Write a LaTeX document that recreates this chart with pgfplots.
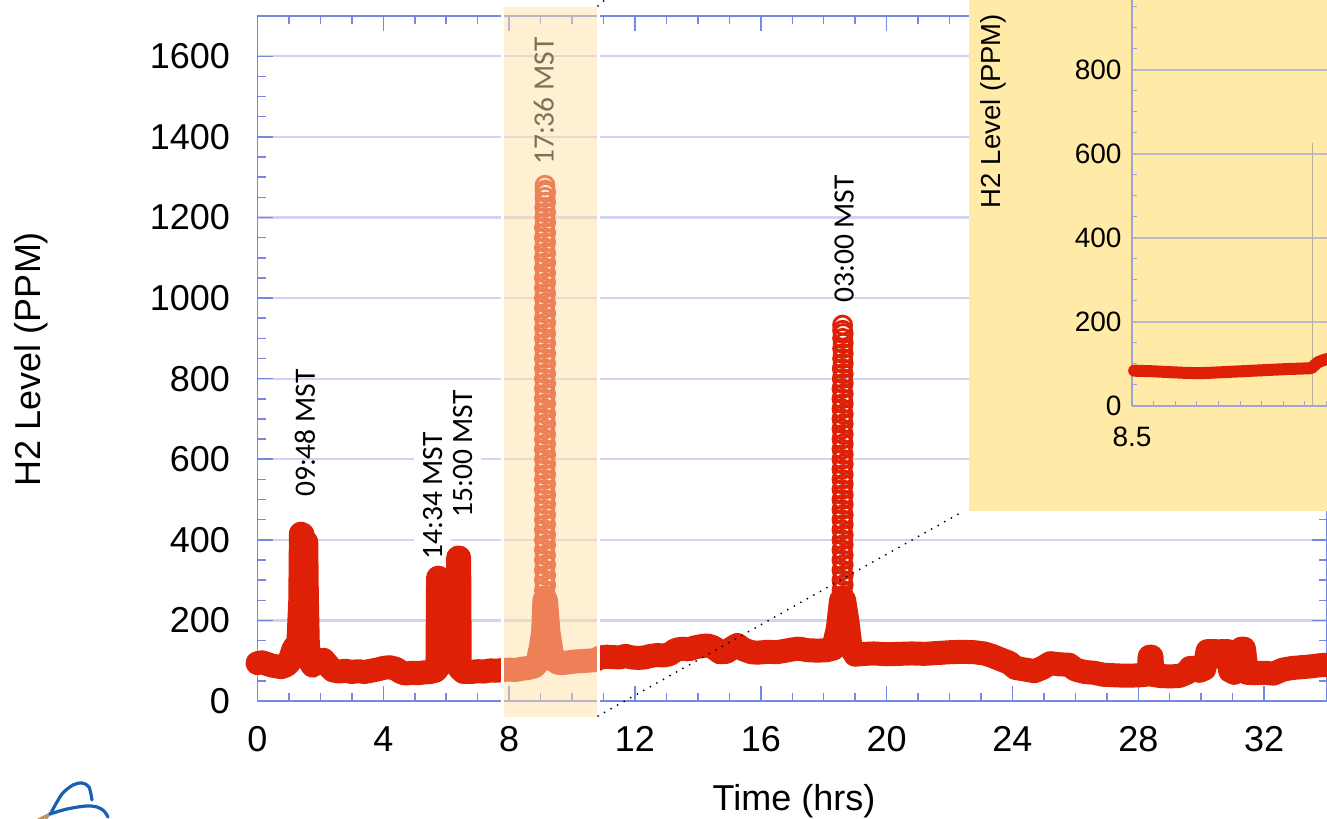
\documentclass[border=0pt]{standalone}
\usepackage{fontspec}
\setmainfont{Liberation Sans}
\newfontfamily\annotfont{Carlito}
\usepackage{pgfplots}
\pgfplotsset{compat=1.18}

\definecolor{axisblue}{RGB}{118,136,228}
\definecolor{gridlav}{RGB}{208,211,242}
\definecolor{trace}{RGB}{222,32,6}
\definecolor{bandtint}{RGB}{255,225,170}
\definecolor{insetbg}{RGB}{255,234,168}
\definecolor{insetaxis}{RGB}{160,165,210}
\definecolor{insetgrid}{RGB}{188,188,205}
\definecolor{eventline}{RGB}{185,175,150}
\definecolor{logoblue}{RGB}{25,95,180}
\definecolor{logotan}{RGB}{190,150,100}

\begin{document}
\begin{tikzpicture}[x=1bp,y=1bp]
\useasboundingbox (0,0) rectangle (1327,818);
\clip (0,0) rectangle (1327,818);

% ---------------- main H2 record ----------------
\begin{axis}[
  at={(257.5bp,117bp)}, anchor=south west,
  scale only axis, width=1069.5bp, height=685bp,
  xmin=0, xmax=34, ymin=0, ymax=1700,
  xtick={0,4,...,32}, ytick={0,200,...,1600},
  minor x tick num=3, minor y tick num=3,
  tick align=inside,
  major tick length=15bp, minor tick length=8bp,
  tick style={axisblue, line width=1.5bp},
  axis line style={axisblue, line width=1.5bp},
  ymajorgrids, major grid style={gridlav, line width=2.2bp},
  ticklabel style={font=\fontsize{36bp}{40bp}\selectfont},
  /pgf/number format/assume math mode=true,
  /pgf/number format/1000 sep={},
  yticklabel style={xshift=-24bp},
  xticklabel style={yshift=-22bp},
  clip=false,
]

% event annotations
\node[rotate=90, anchor=west, inner sep=0pt, font=\annotfont\fontsize{29.5bp}{32bp}\selectfont]
  at (axis cs:1.51,506) {09:48 MST};
\node[rotate=90, anchor=west, inner sep=9bp, fill=white, font=\annotfont\fontsize{29.5bp}{32bp}\selectfont]
  at (axis cs:5.57,328) {14:34 MST};
\node[rotate=90, anchor=west, inner sep=9bp, fill=white, font=\annotfont\fontsize{29.5bp}{32bp}\selectfont]
  at (axis cs:6.52,432) {15:00 MST};
\node[rotate=90, anchor=west, inner sep=0pt, font=\annotfont\fontsize{29.5bp}{32bp}\selectfont]
  at (axis cs:9.10,1330) {17:36 MST};
\node[rotate=90, anchor=west, inner sep=0pt, font=\annotfont\fontsize{29.5bp}{32bp}\selectfont]
  at (axis cs:18.65,988) {03:00 MST};

% sensor trace
\addplot[trace, line width=24bp, line join=round, line cap=round] coordinates {
(0.00,94) (0.15,96) (0.30,92) (0.45,88) (0.60,86) (0.75,84) (0.90,88)
(1.00,95) (1.15,130) (1.30,145) (1.36,250) (1.38,415) (1.43,413) (1.47,400)
(1.50,390) (1.55,394) (1.57,250) (1.60,140) (1.66,100) (1.75,88)
(1.95,100) (2.10,102) (2.25,88) (2.40,76) (2.60,73) (2.80,75) (3.00,72)
(3.20,74) (3.40,72) (3.60,75) (3.80,78) (4.00,82) (4.20,84) (4.40,80)
(4.55,72) (4.70,68) (4.90,70) (5.10,69) (5.30,71) (5.50,72) (5.65,75)
(5.72,80) (5.74,306) (5.76,306) (5.78,165) (6.10,160) (6.36,165)
(6.38,356) (6.41,356) (6.43,80) (6.55,72) (6.80,72) (7.00,74) (7.20,73)
(7.40,76) (7.60,75) (7.80,77) (8.00,78) (8.20,77) (8.40,80) (8.60,82)
(8.80,86) (8.90,95) (9.00,130) (9.08,170) (9.12,250) (9.17,250)
(9.25,170) (9.35,120) (9.45,100) (9.55,95) (9.70,94) (9.90,96)
(10.10,98) (10.30,99) (10.50,100) (10.70,101) (10.90,108) (11.10,110)
(11.30,109) (11.50,108) (11.70,112) (11.90,108) (12.10,107) (12.30,108)
(12.50,112) (12.70,114) (12.90,113) (13.10,116) (13.30,127) (13.50,130)
(13.70,128) (13.90,133) (14.10,136) (14.30,138) (14.50,133) (14.70,121)
(14.90,122) (15.10,132) (15.25,139) (15.45,128) (15.70,121) (15.90,120)
(16.20,122) (16.50,121) (16.80,125) (17.00,128) (17.20,130) (17.50,126)
(17.80,125) (18.10,126) (18.30,130) (18.45,180) (18.55,250) (18.65,250)
(18.75,200) (18.85,135) (19.00,115) (19.30,117) (19.60,118) (20.00,116)
(20.40,117) (20.80,118) (21.20,117) (21.60,119) (22.00,121) (22.40,122)
(22.80,121) (23.10,118) (23.35,112) (23.60,104) (23.90,95) (24.10,82)
(24.40,78) (24.70,74) (24.95,82) (25.20,94) (25.50,91) (25.80,90)
(26.00,78) (26.30,72) (26.60,70) (26.90,65) (27.20,64) (27.50,63)
(27.80,63) (28.10,64) (28.33,66) (28.36,110) (28.42,110) (28.45,65)
(28.70,62) (29.00,61) (29.30,62) (29.55,70) (29.65,82) (29.80,82)
(29.95,75) (30.10,80) (30.20,124) (30.45,124) (30.55,110) (30.65,124)
(30.85,124) (30.92,75) (31.05,70) (31.28,130) (31.36,130) (31.45,70)
(31.70,69) (32.00,70) (32.30,68) (32.60,78) (32.90,82) (33.20,84)
(33.50,86) (33.80,89) (34.00,90)
};

% individual readings on the two tall excursions
\addplot[only marks, mark=o, mark size=9bp, mark options={trace, line width=2.8bp}] coordinates {
(9.12,250) (9.12,275) (9.12,300) (9.12,325) (9.12,350) (9.12,375) (9.12,400)
(9.12,425) (9.12,450) (9.12,475) (9.12,500) (9.12,525) (9.12,550) (9.12,575)
(9.12,600) (9.12,625) (9.12,650) (9.12,675) (9.12,700) (9.12,725) (9.12,750)
(9.12,775) (9.12,800) (9.12,825) (9.12,850) (9.12,875) (9.12,900) (9.12,925)
(9.12,950) (9.12,975) (9.12,1000) (9.12,1025) (9.12,1050) (9.12,1075)
(9.12,1100) (9.12,1125) (9.12,1150) (9.12,1175) (9.13,1200) (9.13,1225)
(9.14,1250) (9.14,1268) (9.14,1280)
(9.16,1262) (9.16,1238) (9.16,1212) (9.16,1188) (9.16,1162) (9.16,1138)
(9.16,1112) (9.16,1088) (9.16,1062) (9.16,1038) (9.16,1012) (9.16,988)
(9.16,962) (9.16,938) (9.16,912) (9.16,888) (9.16,862) (9.16,838)
(9.16,812) (9.16,788) (9.16,762) (9.16,738) (9.16,712) (9.16,688)
(9.16,662) (9.16,638) (9.16,612) (9.16,588) (9.16,562) (9.16,538)
(9.16,512) (9.16,488) (9.16,462) (9.16,438) (9.16,412) (9.16,388)
(9.16,362) (9.16,338) (9.16,312) (9.16,288) (9.16,262)
(18.58,250) (18.58,275) (18.58,300) (18.58,325) (18.58,350) (18.58,375)
(18.58,400) (18.58,425) (18.58,450) (18.58,475) (18.58,500) (18.58,525)
(18.58,550) (18.58,575) (18.58,600) (18.58,625) (18.58,650) (18.58,675)
(18.58,700) (18.58,725) (18.58,750) (18.58,775) (18.59,800) (18.59,825)
(18.60,850) (18.60,875) (18.60,900) (18.60,920) (18.60,933)
(18.62,912) (18.62,888) (18.62,862) (18.62,838) (18.62,812) (18.62,788)
(18.62,762) (18.62,738) (18.62,712) (18.62,688) (18.62,662) (18.62,638)
(18.62,612) (18.62,588) (18.62,562) (18.62,538) (18.62,512) (18.62,488)
(18.62,462) (18.62,438) (18.62,412) (18.62,388) (18.62,362) (18.62,338)
(18.62,312) (18.62,288) (18.62,262)
};
\end{axis}

% highlighted window, expanded in the inset
\fill[bandtint, fill opacity=0.5] (502,100) rectangle (598,812);
\draw[white, line width=3bp] (502,100) rectangle (598,812);

% inset panel
\fill[insetbg] (969,307.3) rectangle (1345,830);

\begin{axis}[
  at={(1132bp,412bp)}, anchor=south west,
  scale only axis, width=216bp, height=420bp,
  xmin=8.5, xmax=9.0, ymin=0, ymax=1000,
  axis lines*=left,
  axis line style={insetaxis, line width=1.2bp},
  xtick={8.5,9.0}, xticklabels={8.5,{}},
  ytick={0,200,...,1000}, yticklabels={0,200,400,600,800,{}},
  minor x tick num=9, minor y tick num=3,
  tick align=inside,
  major tick length=5bp, minor tick length=4.5bp,
  tick style={insetaxis, line width=1bp},
  ymajorgrids, major grid style={insetgrid, line width=1.2bp},
  ticklabel style={font=\fontsize{28bp}{30bp}\selectfont},
  yticklabel style={xshift=-7bp},
  xticklabel style={yshift=-17bp},
  clip=false,
]
\addplot[eventline, line width=1.5bp] coordinates {(8.918,0) (8.918,626)};
\addplot[trace, line width=12bp, line join=round, line cap=round] coordinates {
(8.505,84) (8.54,83) (8.58,81) (8.62,79) (8.66,78) (8.70,80) (8.74,82)
(8.78,84) (8.82,86) (8.86,88) (8.89,89) (8.915,90) (8.93,104) (8.945,110)
(8.96,114) (8.98,125)
};
\end{axis}

% connector lines from the window to the inset
\draw[black, line width=2bp, line cap=round, dash pattern=on 0bp off 7.5bp]
  (598,102) -- (962,306);
\draw[black, line width=2bp, line cap=round, dash pattern=on 0bp off 7.5bp]
  (598,812) -- (620,832);

% axis titles
\node[rotate=90, inner sep=0pt, font=\fontsize{36bp}{40bp}\selectfont] at (31,459) {H2 Level (PPM)};
\node[anchor=base, inner sep=0pt, font=\fontsize{36bp}{40bp}\selectfont] at (794,8) {Time (hrs)};
\node[rotate=90, inner sep=0pt, font=\fontsize{27.5bp}{30bp}\selectfont] at (993,707) {H2 Level (PPM)};

% corner logo
\draw[logotan, line width=3bp, line cap=round] (46,0) -- (52,7);
\draw[logoblue, line width=3.2bp, line cap=round] plot[smooth] coordinates {(52,7) (62,24) (73,33) (82,35) (89,31) (92,18)};
\draw[logotan, line width=3bp, line cap=round] (38,-2) -- (50,4);
\draw[logoblue, line width=3.2bp, line cap=round] plot[smooth] coordinates {(50,4) (67,9) (86,12) (97,11) (104,7) (108,1)};
\end{tikzpicture}
\end{document}
